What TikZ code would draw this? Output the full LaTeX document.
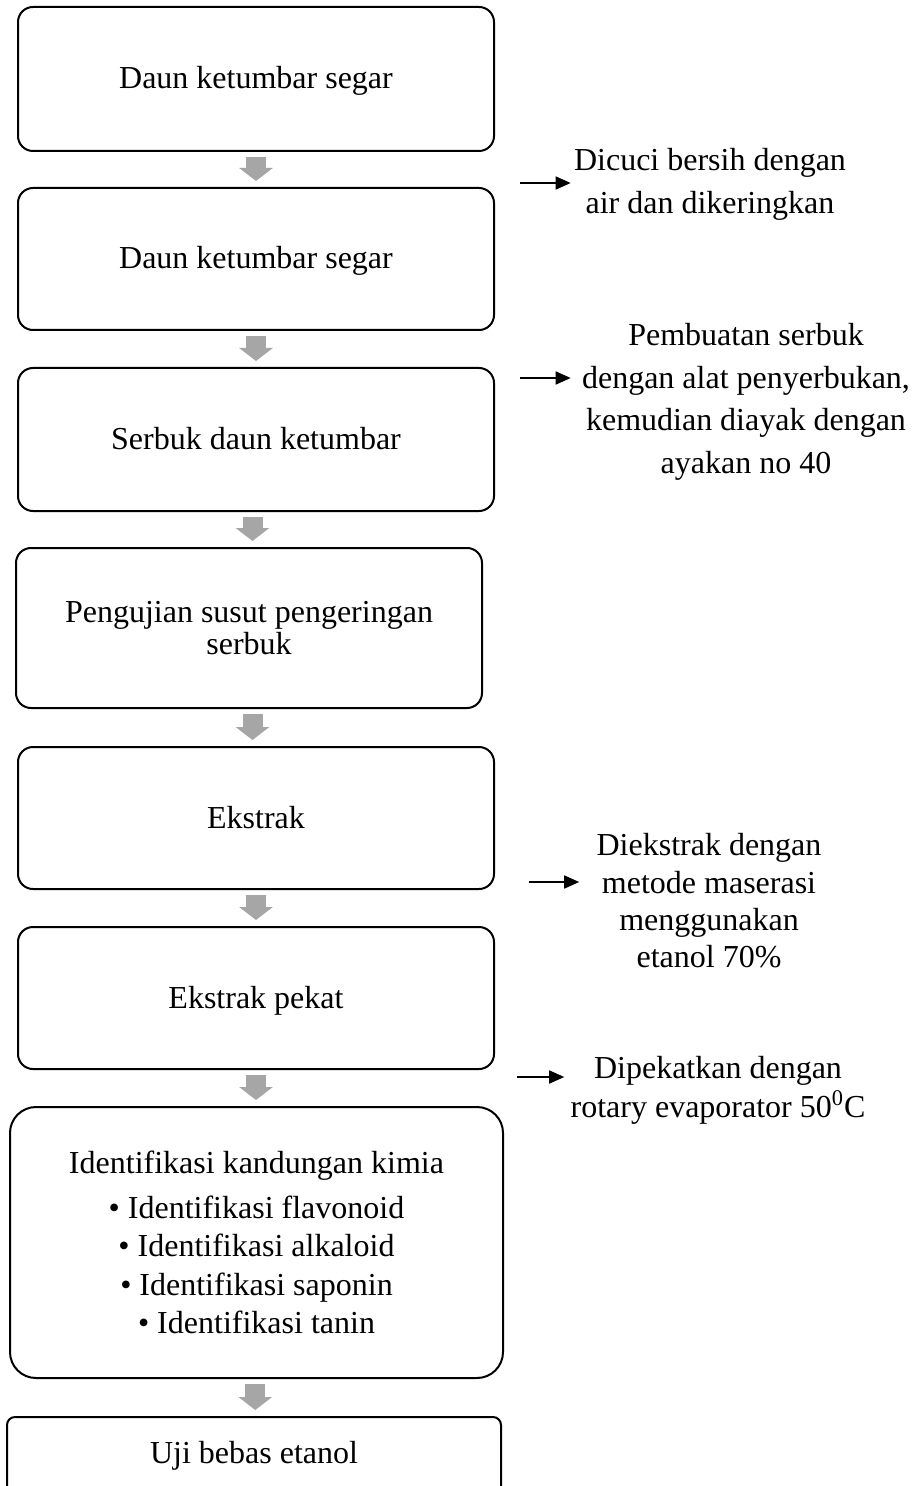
\documentclass[tikz,border=0pt]{standalone}
\usepackage{fontspec}
\setmainfont{Liberation Serif}
\usetikzlibrary{arrows.meta,calc}
\definecolor{flowgray}{HTML}{A6A6A6}
\begin{document}
\begin{tikzpicture}[x=0.5pt,y=-0.5pt,
  box/.style={draw,line width=1pt,rounded corners=7.5pt,align=center,inner sep=0pt,
    font=\fontsize{16pt}{16pt}\selectfont},
  oneline/.style={text height=12pt,text depth=2pt},
  flow/.style={draw=flowgray,line width=10pt,-{Triangle[length=6.5pt,width=16.5pt]},
    shorten <=2.5pt,shorten >=3pt},
  note/.style={align=center,inner sep=0pt},
  side/.style={line width=0.85pt,-{Triangle[length=7.5pt,width=6.5pt]}}]
\useasboundingbox (0,0) rectangle (919,1486);
\clip (0,0) rectangle (919,1486);
\fill[white] (0,0) rectangle (919,1486);

% main boxes
\node[box,oneline,minimum width=238pt,minimum height=72pt] (b1) at (256,79) {Daun ketumbar segar};
\node[box,oneline,minimum width=238pt,minimum height=71pt] (b2) at (256,259) {Daun ketumbar segar};
\node[box,oneline,minimum width=238pt,minimum height=71.5pt] (b3) at (256,439.5) {Serbuk daun ketumbar};
\node[box,minimum width=233pt,minimum height=80pt] (b4) at (249,628) {Pengujian susut pengeringan\\serbuk};
\node[box,oneline,minimum width=238pt,minimum height=71pt] (b5) at (256,818) {Ekstrak};
\node[box,oneline,minimum width=238pt,minimum height=71pt] (b6) at (256,998) {Ekstrak pekat};
\node[box,rounded corners=13pt,minimum width=246.5pt,minimum height=135.5pt,
  font=\fontsize{16pt}{19.25pt}\selectfont] (b7) at (256.5,1242.5)
  {Identifikasi kandungan kimia\\[3.25pt]
   \textbullet\ Identifikasi flavonoid\\
   \textbullet\ Identifikasi alkaloid\\
   \textbullet\ Identifikasi saponin\\
   \textbullet\ Identifikasi tanin};
\node[box,rounded corners=4pt,text height=10pt,text depth=4pt,minimum width=247pt,minimum height=40pt] (b8) at (254,1457) {Uji bebas etanol};

% gray block arrows
\draw[flow] (b1.south) -- (b1.south |- b2.north);
\draw[flow] (b2.south) -- (b2.south |- b3.north);
\draw[flow] ($(b3.south)!.5!(b3.south -| b4.north)$) -- ($(b4.north)!.5!(b4.north -| b3.south)$);
\draw[flow] ($(b4.south)!.5!(b4.south -| b5.north)$) -- ($(b5.north)!.5!(b5.north -| b4.south)$);
\draw[flow] (b5.south) -- (b5.south |- b6.north);
\draw[flow] (b6.south) -- (b6.south |- b7.north);
\draw[flow] ($(b7.south)!.5!(b7.south -| b8.north)$) -- ($(b8.north)!.5!(b8.north -| b7.south)$);

% side notes
\node[note,font=\fontsize{16pt}{21.5pt}\selectfont] (t1) at (710,184.5)
  {Dicuci bersih dengan\\air dan dikeringkan};
\node[note,font=\fontsize{16pt}{21.33pt}\selectfont] (t2) at (746,402)
  {Pembuatan serbuk\\dengan alat penyerbukan,\\kemudian diayak dengan\\ayakan no 40};
\node[note,font=\fontsize{16pt}{18.67pt}\selectfont] (t3) at (709,901)
  {Diekstrak dengan\\metode maserasi\\menggunakan\\etanol 70\%};
\node[note,font=\fontsize{16pt}{19.5pt}\selectfont] (t4) at (718,1090.5)
  {Dipekatkan dengan\\rotary evaporator 50\textsuperscript{0}C};

\coordinate (s1) at (520,183);
\coordinate (s2) at (520,378);
\coordinate (s3) at (529,882);
\coordinate (s4) at (517,1077);
\draw[side,shorten >=1.5pt] (s1) -- (s1 -| t1.west);
\draw[side,shorten >=5.5pt] (s2) -- (s2 -| t2.west);
\draw[side,shorten >=8.5pt] (s3) -- (s3 -| t3.west);
\draw[side,shorten >=3pt] (s4) -- (s4 -| t4.west);
\end{tikzpicture}
\end{document}
